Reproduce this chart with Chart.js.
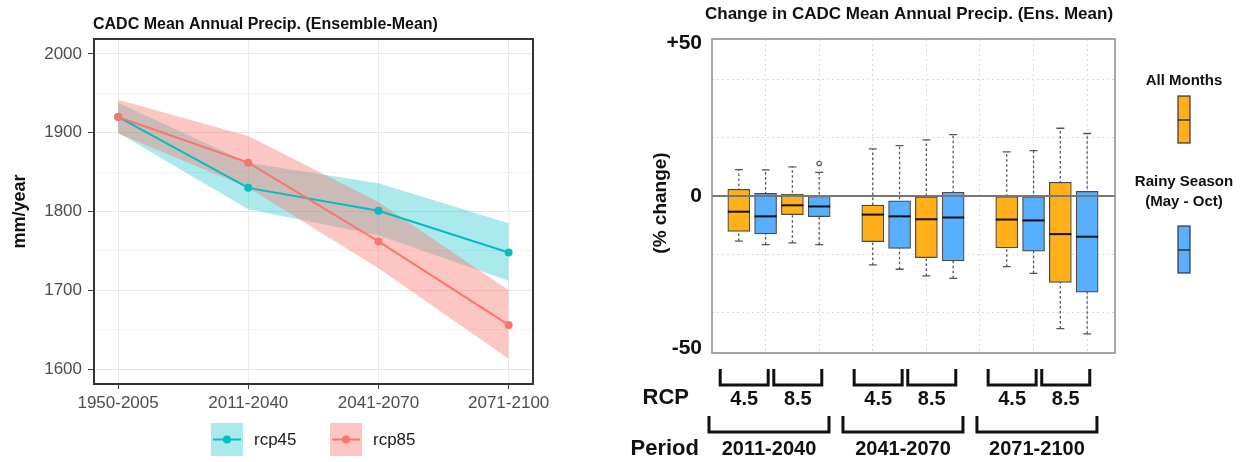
<!DOCTYPE html>
<html>
<head>
<meta charset="utf-8">
<script src="https://cdn.jsdelivr.net/npm/chart.js@4"></script>
<style>
    body {
        margin: 0;
        background: #fff;
        width: 1247px;
        height: 462px;
        overflow: hidden;
        position: relative;
        font-family: 'Liberation Sans', Arial, sans-serif;
    }
    #left-panel {
        position: absolute;
        left: 0;
        top: 0;
        width: 580px;
        height: 462px;
    }
    #right-panel {
        position: absolute;
        left: 580px;
        top: 0;
        width: 667px;
        height: 462px;
    }
</style>
</head>
<body>
<div id="left-panel"><canvas id="lineChart"></canvas></div>
<div id="right-panel"><canvas id="boxChart"></canvas></div>

<script>
// ---- left panel: ensemble-mean annual precip (mm/year)
const periods = ['1950-2005', '2011-2040', '2041-2070', '2071-2100'];
const rcp45Mean = [1920, 1830, 1801, 1748];
const rcp45Low  = [1900, 1803, 1770, 1712];
const rcp45High = [1938, 1862, 1836, 1785];
const rcp85Mean = [1920, 1862, 1762, 1656];
const rcp85Low  = [1899, 1830, 1728, 1613];
const rcp85High = [1942, 1896, 1812, 1700];
const precipTicks = [1600, 1650, 1700, 1750, 1800, 1850, 1900, 1950, 2000];

// ---- right panel: % change boxplots
// orange = All Months, blue = Rainy Season (May - Oct)
const rcpLabels = ['4.5', '8.5'];
const futurePeriods = ['2011-2040', '2041-2070', '2071-2100'];
const allPos    = [0.5, 1.5, 3, 4, 5.5, 6.5];
const allWLo    = [-15.5, -16.1, -23.7, -27.5, -24.3, -45.6];
const allQ1     = [-12.2, -6.4, -15.7, -21.2, -17.8, -29.7];
const allMed    = [-5.4, -3.2, -6.4, -8.0, -8.1, -13.1];
const allQ3     = [2.3, 0.7, -3.1, -0.3, -0.2, 4.7];
const allWHi    = [9.1, 10.0, 16.2, 19.3, 15.2, 23.3];
const rainyPos  = [1, 2, 3.5, 4.5, 6, 7];
const rainyWLo  = [-16.7, -16.7, -25.2, -28.3, -26.6, -47.4];
const rainyQ1   = [-13.0, -7.1, -18.0, -22.3, -19.0, -33.1];
const rainyMed  = [-7.0, -3.6, -7.0, -7.4, -8.4, -14.0];
const rainyQ3   = [0.9, 0, -1.7, 1.3, -0.2, 1.6];
const rainyWHi  = [9.0, 8.1, 17.3, 21.1, 15.6, 21.5];
const rainyOutliers = [{x: 2, y: 11.2}];
const changeTicks = [-52.5, -40, -20, 0, 20, 40, 52.5];
const changeLabels = {'52.5': '+50', '0': '0', '-52.5': '-50'};
const gridX = [1, 2, 3, 4, 5, 6, 7];

const FONT = "'Liberation Sans', Arial, sans-serif";
const TEAL = '#00BFC4';
const RED = '#F8766D';
const ORANGE = '#FFB01A';
const BLUE = '#58AEFF';

const toXY = arr => arr.map((v, i) => ({x: i, y: v}));

const leftDecor = {
    id: 'leftDecor',
    afterDraw(chart) {
        const ctx = chart.ctx;
        const a = chart.chartArea;
        ctx.save();
        ctx.strokeStyle = '#333';
        ctx.lineWidth = 2;
        ctx.strokeRect(a.left, a.top, a.right - a.left, a.bottom - a.top);

        ctx.fillStyle = '#111';
        ctx.font = 'bold 16px ' + FONT;
        ctx.textBaseline = 'middle';
        ctx.textAlign = 'left';
        ctx.fillText('CADC Mean Annual Precip. (Ensemble-Mean)', a.left - 1, 25);

        ctx.save();
        ctx.translate(20, (a.top + a.bottom) / 2);
        ctx.rotate(-Math.PI / 2);
        ctx.textAlign = 'center';
        ctx.font = 'bold 18px ' + FONT;
        ctx.fillText('mm/year', 0, 0);
        ctx.restore();

        // legend
        const keys = [
            {x: 211, label: 'rcp45', line: TEAL, fill: 'rgba(0,191,196,0.33)'},
            {x: 330, label: 'rcp85', line: RED, fill: 'rgba(248,118,109,0.42)'}
        ];
        keys.forEach(k => {
            ctx.fillStyle = k.fill;
            ctx.fillRect(k.x, 423, 32, 33);
            ctx.strokeStyle = k.line;
            ctx.lineWidth = 2;
            ctx.beginPath();
            ctx.moveTo(k.x + 2, 439.5);
            ctx.lineTo(k.x + 30, 439.5);
            ctx.stroke();
            ctx.fillStyle = k.line;
            ctx.beginPath();
            ctx.arc(k.x + 16, 439.5, 4, 0, Math.PI * 2);
            ctx.fill();
            ctx.fillStyle = '#1a1a1a';
            ctx.font = '17px ' + FONT;
            ctx.textAlign = 'left';
            ctx.fillText(k.label, k.x + 43, 440);
        });
        ctx.restore();
    }
};

new Chart(document.getElementById('lineChart'), {
    type: 'line',
    data: {
        datasets: [
            {label: 'rcp85', data: toXY(rcp85Mean), borderColor: RED, backgroundColor: RED,
             borderWidth: 2, pointRadius: 4, pointBorderWidth: 0, fill: false, tension: 0},
            {label: 'rcp45', data: toXY(rcp45Mean), borderColor: TEAL, backgroundColor: TEAL,
             borderWidth: 2, pointRadius: 4, pointBorderWidth: 0, fill: false, tension: 0},
            {label: 'rcp85 high', data: toXY(rcp85High), fill: '+1', backgroundColor: 'rgba(248,118,109,0.42)',
             borderWidth: 0, pointRadius: 0, tension: 0},
            {label: 'rcp85 low', data: toXY(rcp85Low), fill: false, borderWidth: 0, pointRadius: 0, tension: 0},
            {label: 'rcp45 high', data: toXY(rcp45High), fill: '+1', backgroundColor: 'rgba(0,191,196,0.33)',
             borderWidth: 0, pointRadius: 0, tension: 0},
            {label: 'rcp45 low', data: toXY(rcp45Low), fill: false, borderWidth: 0, pointRadius: 0, tension: 0}
        ]
    },
    options: {
        animation: false,
        responsive: true,
        maintainAspectRatio: false,
        layout: {padding: {top: 39, right: 47, left: 0, bottom: 0}},
        plugins: {legend: {display: false}, tooltip: {enabled: false}},
        scales: {
            x: {
                type: 'linear',
                min: -0.185,
                max: 3.187,
                afterBuildTicks: s => { s.ticks = periods.map((p, i) => ({value: i})); },
                afterFit: s => { s.height = 78; },
                ticks: {
                    callback: v => periods[v],
                    color: '#4d4d4d',
                    font: {family: FONT, size: 17},
                    padding: 4,
                    maxRotation: 0,
                    autoSkip: false
                },
                grid: {color: '#ebebeb', tickLength: 5, tickColor: '#444'},
                border: {display: false}
            },
            y: {
                min: 1581,
                max: 2019,
                afterBuildTicks: s => { s.ticks = precipTicks.map(v => ({value: v})); },
                afterFit: s => { s.width = 94; },
                ticks: {
                    callback: v => (v % 100 === 0 ? v : ''),
                    color: '#4d4d4d',
                    font: {family: FONT, size: 17},
                    padding: 6
                },
                grid: {
                    color: c => (c.tick && c.tick.value % 100 === 0 ? '#e6e6e6' : '#f2f2f2'),
                    tickColor: c => (c.tick && c.tick.value % 100 === 0 ? '#444' : 'rgba(0,0,0,0)'),
                    tickLength: 6
                },
                border: {display: false}
            }
        }
    },
    plugins: [leftDecor]
});

// right panel: whiskers, medians, labels and brackets
const boxGroups = [
    {pos: allPos, wLo: allWLo, wHi: allWHi, q1: allQ1, q3: allQ3, med: allMed},
    {pos: rainyPos, wLo: rainyWLo, wHi: rainyWHi, q1: rainyQ1, q3: rainyQ3, med: rainyMed}
];

const boxDecor = {
    id: 'boxDecor',
    beforeDatasetsDraw(chart) {
        const ctx = chart.ctx;
        const x = chart.scales.x, y = chart.scales.y;
        ctx.save();
        boxGroups.forEach(g => {
            g.pos.forEach((p, i) => {
                const px = x.getPixelForValue(p);
                const lo = y.getPixelForValue(g.wLo[i]);
                const hi = y.getPixelForValue(g.wHi[i]);
                ctx.strokeStyle = '#555';
                ctx.lineWidth = 1.3;
                ctx.setLineDash([2.5, 2.5]);
                ctx.beginPath();
                ctx.moveTo(px, lo);
                ctx.lineTo(px, hi);
                ctx.stroke();
                ctx.setLineDash([]);
                ctx.beginPath();
                ctx.moveTo(px - 4, lo);
                ctx.lineTo(px + 4, lo);
                ctx.moveTo(px - 4, hi);
                ctx.lineTo(px + 4, hi);
                ctx.stroke();
            });
        });
        ctx.restore();
    },
    afterDatasetsDraw(chart) {
        const ctx = chart.ctx;
        const x = chart.scales.x, y = chart.scales.y;
        const a = chart.chartArea;
        ctx.save();
        boxGroups.forEach(g => {
            g.pos.forEach((p, i) => {
                const px = x.getPixelForValue(p);
                const m = y.getPixelForValue(g.med[i]);
                ctx.strokeStyle = '#111';
                ctx.lineWidth = 2;
                ctx.beginPath();
                ctx.moveTo(px - 11, m);
                ctx.lineTo(px + 11, m);
                ctx.stroke();
            });
        });
        rainyOutliers.forEach(o => {
            ctx.strokeStyle = '#555';
            ctx.lineWidth = 1.2;
            ctx.beginPath();
            ctx.arc(x.getPixelForValue(o.x), y.getPixelForValue(o.y), 2.2, 0, Math.PI * 2);
            ctx.stroke();
        });
        // zero line
        const z = y.getPixelForValue(0);
        ctx.strokeStyle = '#777';
        ctx.lineWidth = 2;
        ctx.beginPath();
        ctx.moveTo(a.left, z);
        ctx.lineTo(a.right, z);
        ctx.stroke();
        // panel border
        ctx.strokeStyle = '#8a8a8a';
        ctx.lineWidth = 1.5;
        ctx.strokeRect(a.left, a.top, a.right - a.left, a.bottom - a.top);
        ctx.restore();
    },
    afterDraw(chart) {
        const ctx = chart.ctx;
        const x = chart.scales.x;
        const a = chart.chartArea;
        ctx.save();
        ctx.fillStyle = '#111';
        ctx.textBaseline = 'middle';

        ctx.font = 'bold 17px ' + FONT;
        ctx.textAlign = 'left';
        ctx.fillText('Change in CADC Mean Annual Precip. (Ens. Mean)', a.left - 7, 14);

        ctx.save();
        ctx.translate(81, 203);
        ctx.rotate(-Math.PI / 2);
        ctx.textAlign = 'center';
        ctx.font = 'bold 19px ' + FONT;
        ctx.fillText('(% change)', 0, 0);
        ctx.restore();

        // legend
        const lx = a.right + 69;
        ctx.textAlign = 'center';
        ctx.font = 'bold 15px ' + FONT;
        ctx.fillText('All Months', lx, 81);
        ctx.fillText('Rainy Season', lx, 182);
        ctx.fillText('(May - Oct)', lx, 202);
        [[ORANGE, 96], [BLUE, 226]].forEach(([c, top]) => {
            ctx.fillStyle = c;
            ctx.fillRect(lx - 6, top, 12, 47);
            ctx.strokeStyle = '#333';
            ctx.lineWidth = 1.2;
            ctx.strokeRect(lx - 6, top, 12, 47);
            ctx.lineWidth = 1.5;
            ctx.beginPath();
            ctx.moveTo(lx - 6, top + 24);
            ctx.lineTo(lx + 6, top + 24);
            ctx.stroke();
        });

        // brackets under the panel
        ctx.fillStyle = '#111';
        ctx.strokeStyle = '#111';
        ctx.lineWidth = 3;
        ctx.lineJoin = 'miter';
        const bracket = (cx, half, top, bottom) => {
            ctx.beginPath();
            ctx.moveTo(cx - half, top);
            ctx.lineTo(cx - half, bottom);
            ctx.lineTo(cx + half, bottom);
            ctx.lineTo(cx + half, top);
            ctx.stroke();
        };
        futurePeriods.forEach((per, p) => {
            rcpLabels.forEach((r, k) => {
                const i = p * 2 + k;
                const cx = x.getPixelForValue((allPos[i] + rainyPos[i]) / 2) - 8;
                bracket(cx, 24, 369, 385);
                ctx.font = 'bold 20px ' + FONT;
                ctx.textAlign = 'center';
                ctx.fillText(r, cx, 399);
            });
            const cx = x.getPixelForValue((allPos[p * 2] + rainyPos[p * 2 + 1]) / 2) - 10;
            bracket(cx, 60, 416, 432);
            ctx.font = 'bold 20px ' + FONT;
            ctx.textAlign = 'center';
            ctx.fillText(per, cx, 449);
        });
        ctx.font = 'bold 22px ' + FONT;
        ctx.textAlign = 'right';
        ctx.fillText('RCP', 109, 398);
        ctx.fillText('Period', 119, 449);
        ctx.restore();
    }
};

const barSet = (label, pos, q1, q3, color) => ({
    label: label,
    data: pos.map((p, i) => ({x: p, y: [q1[i], q3[i]]})),
    backgroundColor: color,
    borderColor: '#4a4a4a',
    borderWidth: 1.2,
    borderSkipped: false,
    barThickness: 22,
    grouped: false
});

new Chart(document.getElementById('boxChart'), {
    type: 'bar',
    data: {
        datasets: [
            barSet('All Months', allPos, allQ1, allQ3, ORANGE),
            barSet('Rainy Season (May - Oct)', rainyPos, rainyQ1, rainyQ3, BLUE)
        ]
    },
    options: {
        animation: false,
        responsive: true,
        maintainAspectRatio: false,
        layout: {padding: {top: 39, right: 132, left: 0, bottom: 0}},
        plugins: {legend: {display: false}, tooltip: {enabled: false}},
        scales: {
            x: {
                type: 'linear',
                offset: false,
                min: 0,
                max: 7.52,
                afterBuildTicks: s => { s.ticks = gridX.map(v => ({value: v})); },
                afterFit: s => { s.height = 109; },
                ticks: {display: false},
                grid: {color: '#d9d9d9', drawTicks: false, offset: false},
                border: {display: false, dash: [2, 3]}
            },
            y: {
                min: -54,
                max: 54,
                afterBuildTicks: s => { s.ticks = changeTicks.map(v => ({value: v})); },
                afterFit: s => { s.width = 132; },
                ticks: {
                    callback: v => changeLabels[String(v)] || '',
                    color: '#111',
                    font: {family: FONT, size: 21, weight: 'bold'},
                    padding: 10
                },
                grid: {
                    color: c => (c.tick && [20, 40, -20, -40].includes(c.tick.value) ? '#d9d9d9' : 'rgba(0,0,0,0)'),
                    drawTicks: false
                },
                border: {display: false, dash: [2, 3]}
            }
        }
    },
    plugins: [boxDecor]
});
</script>
</body>
</html>
